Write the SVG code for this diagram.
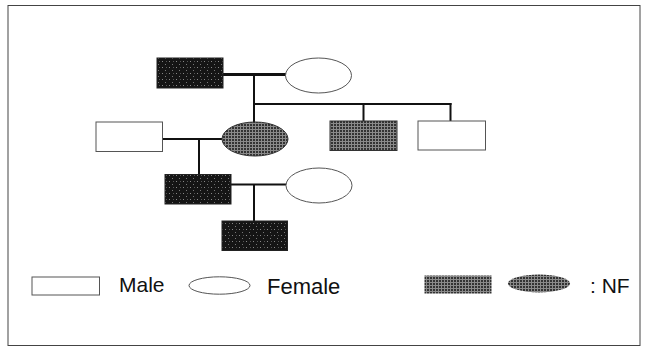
<svg xmlns="http://www.w3.org/2000/svg" width="650" height="350" viewBox="0 0 650 350">
<defs>
<pattern id="grid" width="3" height="3" patternUnits="userSpaceOnUse">
<rect width="3" height="3" fill="#333"/>
<rect x="0" y="0" width="3" height="1" fill="#8a8a8a"/>
<rect x="0" y="0" width="1" height="3" fill="#8a8a8a"/>
</pattern>
<pattern id="dark" width="7" height="6" patternUnits="userSpaceOnUse">
<rect width="7" height="6" fill="#151515"/>
<rect x="1" y="1" width="1" height="1" fill="#888"/>
<rect x="4" y="4" width="1" height="1" fill="#777"/>
<rect x="5" y="1" width="1" height="1" fill="#555"/>
</pattern>
<style>
.white{fill:#fff;stroke:#555;stroke-width:1}
.black{fill:url(#dark);stroke:#222;stroke-width:1}
.gray{fill:url(#grid);stroke:#333;stroke-width:1}
.ln{stroke:#111;stroke-width:2;fill:none}
.txt{font-family:"Liberation Sans",Arial,sans-serif;font-size:21px;fill:#111}
</style>
</defs>
<rect x="8" y="5.5" width="632" height="340" fill="#fff" stroke="#444" stroke-width="1"/>
<g id="connectors">
<line class="ln" x1="223" y1="74.5" x2="286" y2="74.5" style="stroke-width:3"/>
<line class="ln" x1="254" y1="75" x2="254" y2="122"/>
<line class="ln" x1="253" y1="104" x2="451.5" y2="104"/>
<line class="ln" x1="363.5" y1="104" x2="363.5" y2="121"/>
<line class="ln" x1="450.5" y1="103" x2="450.5" y2="121"/>
<line class="ln" x1="162.5" y1="139" x2="222" y2="139"/>
<line class="ln" x1="199" y1="139" x2="199" y2="174.5"/>
<line class="ln" x1="231" y1="184.5" x2="286" y2="184.5"/>
<line class="ln" x1="254" y1="184.5" x2="254" y2="221"/>
</g>
<g id="gf"><rect class="black" x="157" y="58" width="66" height="30"/></g>
<g id="gm"><ellipse class="white" cx="318.5" cy="75.5" rx="33" ry="17.5"/></g>
<g id="mother"><ellipse class="gray" cx="255" cy="139" rx="33" ry="17"/></g>
<g id="uncle1"><rect class="gray" x="330" y="121" width="67" height="29.5"/></g>
<g id="uncle2"><rect class="white" x="418" y="121" width="67.5" height="29"/></g>
<g id="father"><rect class="white" x="96" y="122" width="66.5" height="29.5"/></g>
<g id="son"><rect class="black" x="165" y="174.5" width="66" height="29.5"/></g>
<g id="wife"><ellipse class="white" cx="319" cy="185.5" rx="33" ry="17.5"/></g>
<g id="grandson"><rect class="black" x="222" y="221" width="65.5" height="29.5"/></g>
<g id="legend">
<rect class="white" x="32" y="277" width="67.5" height="18"/>
<text class="txt" x="119" y="291.5">Male</text>
<ellipse class="white" cx="219.5" cy="285.5" rx="30.5" ry="8.7"/>
<text class="txt" x="267" y="294" style="font-size:22px">Female</text>
<rect class="gray" x="424.5" y="275.5" width="67" height="18" style="stroke:none"/>
<ellipse class="gray" cx="539" cy="283.5" rx="31" ry="9" style="stroke:none"/>
<text class="txt" x="590" y="292.5">: NF</text>
</g>
</svg>
